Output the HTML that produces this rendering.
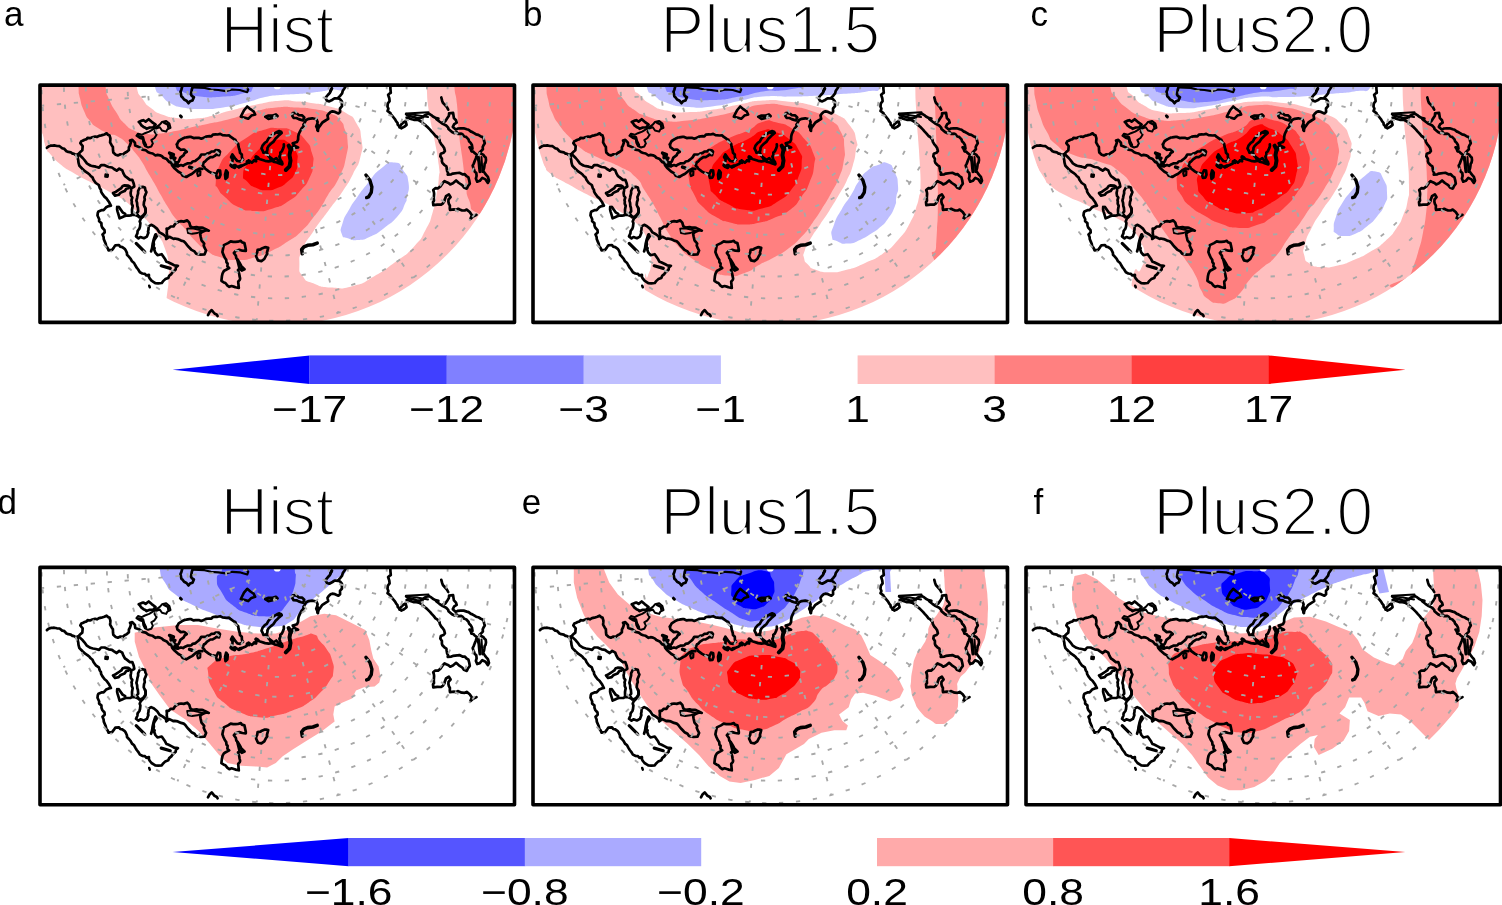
<!DOCTYPE html>
<html lang="en"><head><meta charset="utf-8"><title>Figure</title>
<style>
html,body{margin:0;padding:0;background:#fff}
svg{display:block}
text{font-family:"Liberation Sans",sans-serif;fill:#000}
.ttl{font-size:66px;text-anchor:middle;stroke:#fff;stroke-width:2.3px}
.lab{font-size:35px}
.cb{font-size:37.6px;text-anchor:middle}
.fr{fill:none;stroke:#000;stroke-width:3.6;stroke-linejoin:round}
.grid{fill:none;stroke:#a8a8a8;stroke-width:1.85;stroke-dasharray:4.3 12.7}
.coast{fill:none;stroke:#000;stroke-width:2.7;stroke-linejoin:round;stroke-linecap:round}
</style></head><body>
<svg width="1502" height="905" viewBox="0 0 1502 905">
<rect width="1502" height="905" fill="#fff"/>
<defs>
<clipPath id="cr"><rect x="0" y="0" width="474.5" height="237.3"/></clipPath>
<clipPath id="cc"><circle cx="237.25" cy="0" r="240.0"/></clipPath>
<g id="grid" class="grid"><circle cx="237.25" cy="0" r="235.7"/><circle cx="237.25" cy="0" r="213.3"/><circle cx="237.25" cy="0" r="191.5"/><circle cx="237.25" cy="0" r="170.4"/><circle cx="237.25" cy="0" r="149.7"/><circle cx="237.25" cy="0" r="129.4"/><circle cx="237.25" cy="0" r="109.5"/><circle cx="237.25" cy="0" r="90.0"/><circle cx="237.25" cy="0" r="70.6"/><circle cx="237.25" cy="0" r="51.5"/><circle cx="237.25" cy="0" r="32.5"/><path d="M207.4 2.6 L2.1 20.6"/><path d="M210.1 12.7 L23.4 99.7"/><path d="M216.0 21.2 L70.4 166.9"/><path d="M224.6 27.2 L137.5 213.9"/><path d="M234.6 29.9 L216.7 235.1"/><path d="M245.0 29.0 L298.3 228.0"/><path d="M254.5 24.6 L372.6 193.3"/><path d="M261.8 17.2 L430.6 135.4"/><path d="M266.2 7.8 L465.2 61.1"/></g>
<g id="coast" class="coast"><path d="M6.9 62.7 L8.5 61.4 L10.9 60.5 L12.9 60.5 L14.2 60.3 L16.9 60.9 L19.6 61.1 L22.2 63.2 L23.9 63.4 L26.5 66.1 L28.3 66.8 L30.8 67.2 L32.5 68.5 L33.6 68.5 L35.9 69.9 L38.9 68.6"/><path d="M38.9 68.6 L40.0 67.1 L42.3 65.2 L42.7 61.0 L40.3 58.1 L41.3 56.2 L42.6 55.7 L44.6 54.6 L46.7 54.0 L47.5 52.7 L50.0 53.1 L52.3 52.2 L55.2 51.4 L56.9 51.9 L59.0 50.7 L61.3 50.3 L64.4 49.4 L66.6 48.2 L68.0 49.6 L69.6 50.4 L70.4 53.3 L70.3 55.0 L70.1 57.2 L71.8 60.3 L72.9 61.9 L73.0 65.1 L73.3 67.4 L75.7 69.6 L77.9 70.3 L80.4 69.2 L82.9 69.4 L84.6 67.9 L86.9 66.7 L88.9 64.8 L88.9 62.1 L89.8 60.7 L90.9 57.4 L90.0 55.4 L92.3 54.7 L94.9 57.5 L95.2 60.5 L98.9 61.8 L101.4 63.3 L102.3 64.5 L105.8 65.2 L108.2 67.1 L110.3 67.9 L112.7 68.4 L115.5 70.4 L117.6 69.8 L120.0 70.2 L122.0 71.2 L123.4 72.6 L126.7 74.0 L129.2 76.9 L131.4 77.9 L132.2 80.4 L134.5 83.2 L138.4 86.6 L141.0 88.0 L142.7 90.6 L146.3 91.9 L150.2 89.6 L152.1 88.7 L156.0 85.4 L159.3 83.6 L162.4 83.8"/><path d="M37.8 70.2 L37.8 73.3 L38.3 75.3 L38.5 77.5 L39.4 80.7 L41.3 82.6 L42.3 83.6 L45.2 86.3 L47.4 87.7 L49.5 89.4 L50.7 90.9 L52.5 92.3 L53.6 94.9 L55.8 97.9 L58.8 99.9 L59.8 103.1 L60.9 104.6 L61.1 106.5 L62.3 108.7 L64.6 111.8 L66.5 113.3 L68.1 115.6 L69.2 117.2 L70.9 120.6 L68.8 121.0 L66.1 122.2 L63.6 125.0 L62.0 124.9 L58.5 126.3 L57.8 127.7 L57.5 130.4 L59.2 134.1 L59.1 136.2 L61.4 138.0 L61.5 140.5 L62.2 142.4 L64.5 145.1 L64.7 147.3 L62.5 149.3 L63.6 152.0 L63.8 154.2 L64.9 156.8 L65.7 158.7 L66.3 161.5 L67.5 162.7 L68.6 165.3 L72.1 164.7 L73.8 162.5 L75.4 160.2 L79.0 159.9 L80.2 161.6 L82.3 162.0 L84.7 163.7 L85.7 165.2 L86.9 167.8 L87.0 169.6 L88.6 171.3 L90.7 173.7 L92.0 176.2 L94.1 177.9 L95.3 180.2 L96.7 182.6 L98.2 184.4 L99.9 187.2 L102.3 188.4 L104.9 188.8 L106.4 190.4 L108.9 189.7 L108.9 192.0 L109.9 193.6 L111.5 195.6 L114.1 197.2 L115.3 198.0 L118.2 198.3 L121.8 197.9 L122.9 196.3 L125.3 194.0 L128.3 192.9 L129.2 190.7 L131.3 189.0 L132.4 187.3 L134.6 185.3 L135.7 184.3 L135.9 182.3 L137.9 180.7 L134.3 180.3 L132.3 179.2 L128.1 177.1 L126.4 176.6 L125.2 174.2 L123.8 172.2 L121.7 169.1 L117.5 170.1 L115.4 167.6 L114.2 164.5 L114.6 163.0 L113.4 161.6 L113.9 159.3 L113.6 157.2 L114.1 155.1 L116.8 151.2 L115.9 149.2"/><path d="M39.9 70.2 L42.7 72.9 L44.4 74.9 L46.9 78.3 L48.4 79.2 L50.4 80.4 L53.0 81.1 L55.8 81.6 L59.1 82.5 L61.1 80.1 L64.6 80.1 L67.4 81.4 L68.7 81.9 L72.0 82.4 L74.0 83.9 L76.7 85.6 L79.2 83.5 L82.3 85.3 L83.4 88.3 L85.0 91.1 L86.4 92.0 L87.7 93.0 L89.9 94.8 L92.3 94.7 L93.7 98.4 L94.3 101.4 L91.3 103.3 L91.0 105.8 L90.6 107.9 L91.0 110.8 L92.3 112.4 L91.5 115.1 L91.8 116.3 L91.7 118.5 L92.7 120.8 L92.3 122.9 L92.0 124.6 L92.1 128.2"/><path d="M77.2 121.8 L77.1 124.3 L77.6 126.5 L78.6 129.8 L79.6 133.2 L82.1 132.1 L84.2 131.2 L85.9 130.6 L88.9 130.6 L90.6 130.4 L91.7 129.7 L95.1 129.8 L97.1 130.6 L99.4 131.7"/><path d="M78.8 121.8 L82.6 127.2 L85.2 128.8"/><path d="M73.0 108.0 L75.1 107.2 L77.2 105.8 L79.0 104.6 L81.3 103.0 L82.7 100.9 L84.6 100.3 L88.3 100.5 L90.1 101.8 L88.3 103.2 L86.3 103.6 L84.6 106.0 L82.0 107.0 L80.4 107.8 L78.7 109.7 L75.0 110.6Z"/><path d="M65.6 89.4 L67.8 89.6 L67.6 91.6 L65.4 91.4Z" stroke-width="2.5" fill="#000"/><path d="M99.9 102.3 L102.7 101.8 L104.9 102.5 L105.4 105.1 L106.4 107.1 L105.7 109.0 L104.4 111.9 L104.8 114.7 L104.0 116.9 L103.7 119.9 L105.2 123.2 L105.5 124.7 L105.5 127.1 L103.8 129.8 L101.8 131.5 L99.2 132.1 L96.8 128.1 L98.2 126.3 L97.9 122.6 L97.3 120.9 L97.1 117.7 L96.4 115.5 L97.1 112.7 L97.4 110.7 L98.1 108.3 L98.1 105.9Z"/><path d="M105.2 122.6 L105.7 124.0 L105.6 126.9 L105.2 128.7 L103.7 130.9 L100.7 133.8 L99.7 136.3 L100.4 138.0 L100.0 141.6 L99.4 143.6 L97.6 145.9 L97.4 148.3 L96.0 151.3 L98.5 153.3 L100.4 151.9 L103.9 153.1 L106.9 151.5 L108.4 147.7 L108.0 146.7 L108.5 144.4 L108.6 141.3 L111.2 139.7 L114.0 141.1 L117.2 143.8 L119.5 147.3 L120.4 147.8 L122.9 149.2 L125.5 151.2 L126.5 153.5"/><path d="M126.2 153.9 L127.2 150.5 L126.7 147.9 L126.9 145.9 L126.6 143.4 L128.5 143.5 L130.8 141.4 L133.5 141.4 L134.9 139.1 L136.7 137.7 L139.1 136.4 L141.1 136.1 L143.7 136.5 L147.2 135.3 L149.3 137.5 L150.3 141.0 L152.5 142.5 L156.6 142.0 L158.5 142.5 L161.7 142.4 L163.5 143.0 L165.8 144.1 L168.8 145.5 L166.0 145.1 L162.0 146.9 L160.1 148.7 L160.7 151.7 L161.5 155.2 L163.2 157.2 L164.2 158.4 L163.7 160.4 L164.9 163.3 L166.1 165.5 L164.5 169.3 L160.5 169.6 L157.8 169.1 L156.0 168.5 L154.5 166.3 L151.5 164.8 L150.7 163.9 L148.3 161.4 L147.3 160.3 L145.5 157.9 L143.7 156.2 L141.1 155.5 L140.0 155.0 L137.8 154.0 L134.7 153.4 L133.6 153.8 L129.4 151.7Z"/><path d="M147.2 143.6 L152.1 143.2 L162.7 145.5 L157.4 147.9 L152.1 148.6 L148.0 148.0Z" stroke-width="1.9"/><path d="M96.2 158.3 L104.7 166.8" stroke-width="3.2"/><path d="M121.2 180.7 L130.3 183.3" stroke-width="3.2"/><path d="M115.3 149.8 L113.7 154.6 L112.7 158.8 L112.1 163.1 L111.1 166.3" stroke-width="2.8"/><path d="M109.2 200.6 L109.8 202.2" stroke-width="2.5"/><path d="M142.2 1.5 L141.4 4.6 L140.5 6.7 L141.4 11.4 L142.3 12.0 L144.1 14.4 L146.5 15.6 L148.5 18.1 L150.0 16.2 L152.5 15.3 L153.9 12.0 L151.9 10.9 L151.0 9.4 L151.8 4.4 L152.8 1.5"/><path d="M152.8 2.3 L164.6 2.8 L171.0 4.4 L178.4 4.9 L185.9 6.0 L192.3 4.4 L199.7 4.9 L207.2 7.1 L208.2 4.4 L206.1 2.0" stroke-width="2.2"/><path d="M140.4 30.8 L141.4 31.8" stroke-width="3.0"/><path d="M98.7 36.8 L101.9 35.5 L103.3 35.1 L105.6 36.5 L108.7 34.1 L111.7 36.7 L115.6 39.6 L113.2 42.4 L109.8 42.4 L106.6 43.7 L105.3 42.6 L103.5 41.8 L101.5 40.3 L99.9 38.0Z"/><path d="M122.0 36.9 L126.2 35.8 L129.4 38.5 L130.5 42.7 L127.3 44.3 L126.2 46.5 L122.0 45.4 L119.8 42.2 L116.6 43.3 L114.5 46.5 L116.6 49.7 L114.5 52.9 L111.3 55.0 L112.9 58.2 L111.3 61.4 L108.1 62.4 L104.9 60.9 L103.3 57.7 L102.8 53.9 L99.6 52.9 L96.4 50.7 L98.0 48.6 L101.7 49.7 L104.9 48.1 L109.2 46.5 L112.9 44.3 L116.6 41.7 L119.8 39.5Z" stroke-width="2.0"/><path d="M124.0 37.5 L128.0 39.5 L128.5 42.5" stroke-width="2.6"/><path d="M98.5 51.0 L103.0 52.0 L104.0 56.0 L106.0 60.0" stroke-width="2.4"/><path d="M129.5 68.0 L133.5 69.5 L131.0 72.5 L135.0 73.0 L132.0 76.0 L136.0 77.5 L134.0 80.5 L137.8 81.0" stroke-width="3.4"/><path d="M131.5 70.0 L133.5 75.0" stroke-width="4.5"/><path d="M136.9 59.3 L138.7 55.9 L142.9 53.3 L145.0 52.4 L146.3 52.3 L149.6 51.7 L151.1 51.8 L153.7 53.0 L155.6 52.7 L158.8 52.7 L161.3 53.6 L165.0 52.2 L166.0 51.5 L169.5 51.1 L171.4 51.3 L172.9 49.6 L175.9 49.3 L177.5 49.4 L180.2 48.8 L182.5 50.0 L186.5 50.4 L189.2 50.3 L190.8 51.8 L194.0 54.1 L195.3 54.6 L196.4 57.1 L198.2 58.8 L198.6 61.8 L199.2 63.9 L199.7 65.4 L200.0 67.6 L201.8 69.3 L201.9 72.4 L203.0 74.5 L200.1 76.4 L197.3 75.9 L195.5 73.8 L192.4 69.3 L191.1 72.0 L192.6 74.1 L192.4 76.2 L191.7 78.3 L190.6 80.3 L192.0 81.5 L195.1 79.9 L196.6 81.2 L198.7 82.0 L199.8 81.0 L201.5 80.8 L205.8 79.0 L206.9 78.2 L208.5 75.2 L211.8 77.6 L214.8 75.0 L215.5 74.7 L217.4 73.4 L218.1 73.4 L220.1 74.1 L225.1 75.7 L228.7 76.3 L232.3 75.5 L233.3 75.1 L236.3 73.1 L238.5 75.8 L239.8 76.8 L242.1 78.4"/><path d="M136.9 59.3 L137.4 62.0 L140.7 64.7 L143.5 64.4 L144.7 64.8 L146.8 66.7 L144.6 68.1 L143.7 70.0 L140.4 72.5 L138.8 76.4 L137.1 77.8 L138.5 80.9 L141.0 80.0 L143.0 80.7 L145.1 79.3 L147.3 78.3 L151.2 78.1 L152.6 76.4 L155.3 75.9 L155.9 75.3 L158.1 73.6 L159.7 72.1 L161.3 69.4 L162.8 69.4 L165.8 69.4 L167.1 68.5 L169.7 67.8 L171.5 66.4 L174.2 66.2 L175.7 65.1 L178.9 65.3 L180.0 66.6 L179.1 70.1 L176.3 69.5 L174.8 70.8 L172.7 72.0 L170.4 72.1 L167.1 74.3 L165.0 76.6 L164.0 76.9 L162.6 80.4 L164.3 82.0 L165.0 83.4 L169.1 86.5 L171.3 87.6 L175.2 88.5"/><path d="M178.0 85.3 L180.1 85.6 L180.5 89.6 L179.4 92.5 L176.9 92.7 L176.1 89.7Z"/><path d="M186.2 85.5 L187.6 87.5 L187.2 92.0 L185.6 93.5 L185.2 89.5Z" stroke-width="3.0"/><path d="M149.6 82.0 L152.0 82.8" stroke-width="3.6"/><path d="M158.2 85.4 L160.4 86.2 L160.2 90.0 L158.0 91.0 L157.2 88.0Z" stroke-width="2.2"/><path d="M192.5 81.0 L194.5 82.0" stroke-width="4.0"/><path d="M216.3 72.0 L217.6 72.8" stroke-width="4.0"/><path d="M199.0 82.0 L201.0 81.0" stroke-width="3.4"/><path d="M207.0 76.5 L209.0 77.5" stroke-width="3.0"/><path d="M214.0 75.5 L216.0 76.0" stroke-width="3.0"/><path d="M221.5 63.4 L222.5 60.5 L224.8 57.8 L226.8 56.5 L228.4 53.5 L230.6 51.2 L232.2 50.1 L234.3 48.5 L237.0 46.9 L239.3 45.9 L241.7 47.9 L239.1 50.0 L237.0 52.1 L235.6 53.4 L233.3 56.8 L230.9 58.7 L228.5 61.0 L227.4 63.1 L227.5 64.0 L226.8 67.3 L223.5 67.6 L222.5 65.1Z"/><path d="M238.0 47.5 L241.0 47.0" stroke-width="3.2"/><path d="M226.4 66.7 L228.5 71.0 L232.7 74.2"/><path d="M243.8 59.3 L243.9 61.1 L243.3 63.0 L241.8 66.3 L240.3 67.4 L240.4 69.6 L239.4 71.5 L240.4 74.8 L242.0 76.9 L242.3 79.4 L240.1 78.7 L238.7 78.2 L237.0 77.4 L234.4 76.9 L231.6 75.4 L230.0 73.1"/><path d="M248.6 60.6 L250.5 64.4 L249.5 70.0 L250.5 75.6 L249.5 81.2 L245.8 84.9" stroke-width="4.0"/><path d="M200.8 31.6 L204.0 25.2 L207.2 21.4 L210.4 24.1 L213.6 26.2 L215.2 29.4 L211.4 30.5 L208.2 33.7 L205.0 32.6Z" stroke-width="2.6"/><path d="M225.3 31.6 L228.5 33.7 L233.8 32.6 L237.5 31.0 L235.9 29.4 L232.7 30.5 L228.5 30.5Z" stroke-width="2.8"/><path d="M305.6 1.5 L304.2 3.6 L302.8 5.6 L302.1 8.3 L300.1 10.7 L298.1 12.9 L300.2 14.3 L301.9 16.2 L301.9 19.5 L302.0 21.1 L300.0 23.4 L300.1 26.8 L298.4 28.3 L295.0 26.8 L292.3 26.3 L290.9 26.6 L288.7 28.7 L287.5 30.3 L288.2 33.8 L285.5 35.4 L282.4 37.4 L279.6 41.3 L278.9 41.9 L277.9 44.5 L278.0 45.8 L277.0 42.9 L276.2 41.3 L277.2 38.8 L277.6 36.8 L276.5 34.1 L272.2 33.2 L268.7 33.7 L266.1 34.9 L264.5 37.8 L263.4 39.6 L263.7 40.9 L261.5 43.5 L259.8 46.7 L258.7 49.2 L258.2 51.5 L258.1 54.5 L257.0 56.9 L252.7 58.2 L254.9 60.8 L258.1 62.3 L254.1 62.9 L252.5 61.7 L251.3 65.6"/><path d="M277.8 40.0 L277.6 45.0" stroke-width="3.0"/><path d="M291.8 3.3 L290.5 5.6 L290.0 7.6 L287.8 9.9 L285.5 12.8 L286.9 15.6 L289.3 16.3 L292.5 14.6 L294.5 13.3 L295.7 13.3 L298.2 13.4"/><path d="M291.8 3.5 L290.5 6.0" stroke-width="3.0"/><path d="M252.8 28.0 L254.9 27.8 L257.2 28.6 L258.9 30.1 L262.2 30.3 L264.3 32.3 L263.0 35.3 L261.2 34.8 L258.7 34.0 L256.5 32.9 L253.6 32.8 L252.3 30.6Z"/><path d="M350.4 1.5 L350.4 3.6 L350.8 7.7 L349.9 8.2 L348.1 9.6 L349.3 13.2 L349.6 16.0 L347.8 18.4 L347.5 21.4 L348.4 23.6 L347.5 25.8 L350.4 28.0 L350.8 29.0 L352.4 30.9 L355.1 34.2 L356.2 36.3 L357.5 37.7 L357.7 39.5 L359.8 41.8 L361.3 43.2 L364.1 41.8 L366.6 39.8 L365.6 36.1 L363.3 37.4 L361.0 39.7 L359.4 42.2"/><path d="M388.5 27.2 L366.0 28.3 L377.0 30.2 L388.0 32.0" stroke-width="2.0"/><path d="M366.6 32.6 L368.6 33.0 L371.9 34.1 L373.9 34.7 L376.3 34.7 L378.8 35.2 L381.5 36.7 L383.0 38.1 L386.2 40.8 L387.2 41.7 L390.0 44.5 L391.7 46.5 L393.8 48.8 L395.5 50.9 L397.2 51.9 L399.4 54.5 L399.9 56.8 L401.2 59.1 L403.1 61.3 L404.1 62.8 L404.9 66.0 L403.4 67.7 L400.8 68.7 L400.3 71.1 L401.9 73.6 L401.9 76.3 L402.4 77.8 L404.4 79.9 L406.4 81.3 L406.6 83.0 L407.1 85.9 L408.1 87.9 L407.7 89.5 L411.3 89.2 L412.9 88.5 L417.3 87.9 L419.4 87.7 L422.9 89.3 L424.7 89.1 L426.4 90.9 L428.4 92.3 L429.3 95.6 L429.8 98.6 L427.9 101.1 L426.9 103.4 L426.3 103.5 L424.0 102.4 L422.2 100.1 L418.9 97.9 L416.1 95.4 L412.9 98.1 L410.2 99.3 L408.5 97.9 L406.2 96.9 L404.5 96.0 L403.0 97.6 L400.4 101.3 L398.1 103.2 L395.3 103.1 L393.2 104.9 L393.9 107.0 L394.1 108.8 L393.9 111.2 L393.8 113.1 L394.0 115.6 L393.0 117.0 L393.3 120.0 L397.3 119.5 L401.1 119.6 L403.0 118.2 L404.5 115.9 L404.6 114.9 L406.0 111.1 L408.9 109.3 L410.6 112.1 L408.5 114.4 L408.4 116.7 L408.9 118.7 L409.9 120.6 L409.8 123.2 L410.0 124.7 L414.0 124.2 L415.7 124.8 L418.2 123.7 L420.2 124.7 L422.0 125.3 L424.7 125.4 L426.7 124.5 L429.7 126.9 L431.9 130.2 L430.3 133.9 L433.1 131.4 L436.5 129.7"/><path d="M366.1 29.0 L368.5 30.7 L372.5 31.7 L374.6 32.1 L376.9 33.2 L379.8 33.2 L382.6 32.4 L384.2 30.6 L386.4 29.4 L389.0 28.7 L391.3 30.0 L392.9 31.4 L395.3 32.7 L398.4 33.5 L396.2 33.8 L399.4 36.4 L402.7 38.7 L406.2 40.4 L408.2 42.5 L408.5 43.8 L412.0 46.9 L414.1 48.0 L416.9 47.1 L418.1 48.8 L421.2 48.5 L422.5 49.2 L424.3 51.4 L426.1 51.8 L428.5 54.3 L429.0 56.1 L430.7 57.8 L431.9 59.9 L432.5 63.5 L429.5 62.2 L430.8 64.2 L431.5 66.3 L433.3 66.6 L434.4 67.8 L436.9 69.7 L435.9 73.1 L434.8 75.7 L433.8 78.4 L432.7 80.6 L433.2 82.3 L434.2 84.8 L434.6 86.3 L436.3 87.9 L436.6 90.9 L435.9 93.5 L437.2 96.6 L439.8 95.7 L442.3 92.8 L445.5 94.3 L447.9 97.8 L449.0 95.5 L447.9 91.8 L446.8 90.6 L445.1 88.5 L443.2 85.5 L444.1 82.9 L444.4 81.0 L444.7 78.6 L445.5 77.5 L446.0 75.1 L445.7 72.3 L444.3 71.1 L443.5 69.8 L439.4 67.6 L442.9 64.2 L442.7 61.9 L443.7 59.8 L444.8 58.1 L444.1 55.9 L443.7 53.8 L442.5 52.0 L440.4 51.1 L438.3 49.8 L436.1 49.3 L434.1 48.0 L431.6 46.6 L430.9 46.5 L428.6 44.7 L426.8 44.2 L423.7 43.2 L420.7 43.2 L418.0 43.4 L415.8 44.5 L412.8 41.8 L414.2 39.0 L416.7 37.5 L416.0 35.2 L413.9 33.0 L413.6 31.2 L413.1 27.8 L409.1 28.3 L408.9 30.6 L407.7 32.5 L405.3 36.1 L402.8 37.4"/><path d="M401.3 12.4 L402.2 15.8 L403.0 17.8 L403.8 18.6 L406.9 22.1 L408.2 24.6"/><path d="M438.0 71.5 L439.1 76.8 L439.6 82.2 L440.1 86.4" stroke-width="3.4"/><path d="M441.5 72.0 L442.0 80.0 L442.5 87.0" stroke-width="2.0"/><path d="M325.9 89.9 L329.9 95.2 L331.9 101.8 L331.3 107.2 L328.6 111.8 L326.6 112.5" stroke-width="3.4"/><path d="M183.3 162.3 L183.8 160.0 L188.0 158.0 L190.7 156.3 L193.2 156.7 L195.6 156.8 L197.9 156.6 L200.8 155.7 L201.9 157.2 L204.4 158.0 L205.0 160.5 L205.8 164.4 L205.8 165.9 L202.4 165.6 L199.3 164.7 L195.7 165.9 L193.9 167.8 L195.9 170.7 L196.3 173.1 L198.0 175.0 L199.5 177.5 L201.4 181.1 L204.5 184.1 L201.8 185.4 L200.1 183.6 L198.0 184.9 L199.3 189.0 L199.5 190.8 L200.1 193.3 L199.9 194.5 L198.2 196.5 L198.5 199.7 L198.8 202.9 L195.5 202.2 L194.6 201.8 L191.6 200.9 L189.3 201.7 L187.5 200.5 L185.4 197.9 L183.8 197.3 L181.4 195.7 L181.9 191.2 L182.6 188.2 L183.9 185.9 L185.2 185.1 L189.2 183.0 L187.4 181.4 L187.6 178.4 L186.5 177.3 L186.2 174.6 L184.8 172.6 L183.5 169.8 L182.4 166.9Z"/><path d="M197.3 174.6 L199.4 183.1"/><path d="M216.3 169.3 L217.2 167.4 L217.6 164.8 L220.7 164.3 L221.2 163.6 L224.3 162.3 L226.1 162.1 L228.2 162.7 L226.9 167.8 L227.3 168.9 L226.1 170.4 L224.3 173.9 L221.4 176.0 L218.0 175.3 L216.1 171.2Z"/><path d="M262.3 168.7 L261.7 164.4 L263.9 161.8 L267.6 160.2 L272.9 159.6 L277.2 158.0" stroke-width="3.6"/><path d="M168.0 230.0 L169.7 226.8 L171.7 225.0 L174.5 228.4 L176.9 229.6 L177.6 231.0"/></g>
</defs>
<text class="ttl" transform="translate(277.2 52.7) scale(1 1.03)">Hist</text>
<text class="lab" x="4.0" y="25.5">a</text>
<text class="ttl" transform="translate(770.2 52.7) scale(1 1.03)">Plus1.5</text>
<text class="lab" x="523.0" y="25.5">b</text>
<text class="ttl" transform="translate(1263.2 52.7) scale(1 1.03)">Plus2.0</text>
<text class="lab" x="1030.5" y="25.5">c</text>
<text class="ttl" transform="translate(277.2 535.0) scale(1 1.03)">Hist</text>
<text class="lab" x="-2.5" y="513.5">d</text>
<text class="ttl" transform="translate(770.2 535.0) scale(1 1.03)">Plus1.5</text>
<text class="lab" x="521.8" y="513.5">e</text>
<text class="ttl" transform="translate(1263.2 535.0) scale(1 1.03)">Plus2.0</text>
<text class="lab" x="1033.5" y="513.5">f</text>
<g transform="translate(40.0 85.1)">
<g clip-path="url(#cr)">
<g clip-path="url(#cc)">
<path d="M-20.0 -25.1 L500.0 -25.1 L500.0 254.9 L-20.0 254.9Z" fill="#ffbfbf"/>
</g>
<g>
<path d="M-20.0 34.9 C-14.0 -35.8 -10.7 33.6 -2.0 42.9 C6.7 52.2 1.9 54.2 6.0 62.9 C10.1 71.6 5.6 63.7 10.4 69.1 C15.2 74.5 12.6 72.8 20.3 79.1 C28.0 85.4 24.4 82.4 33.6 87.9 C42.8 93.4 38.7 90.9 47.9 95.7 C57.1 100.5 52.7 97.9 61.2 102.3 C69.7 106.7 65.6 104.5 73.3 108.9 C81.0 113.3 77.8 110.7 84.4 115.5 C91.0 120.3 87.3 118.1 93.2 123.3 C99.1 128.5 96.4 125.8 102.0 131.0 C107.6 136.2 104.7 132.7 110.0 138.9 C115.3 145.1 113.0 141.5 118.0 149.7 C123.0 157.9 121.5 153.8 125.0 163.6 C128.5 173.4 127.3 169.3 128.5 179.1 C129.7 188.9 129.1 181.9 128.5 192.9 C127.9 203.9 129.5 191.3 126.7 212.0 C123.9 232.7 168.9 240.6 120.0 254.9 C71.1 269.2 26.7 328.2 -20.0 254.9 C-66.7 181.6 -26.0 105.6 -20.0 34.9Z" fill="#ffffff"/>
<path d="M96.7 -15.1 C0.0 -9.4 94.6 -7.9 96.7 1.9 C98.8 11.7 98.2 7.4 103.0 14.4 C107.8 21.4 104.4 17.8 111.0 22.9 C117.6 28.0 113.7 26.3 122.8 29.7 C131.9 33.1 127.2 31.8 138.3 33.1 C149.4 34.4 144.4 34.4 156.0 33.5 C167.6 32.6 161.9 33.1 173.2 30.5 C184.5 27.9 176.0 29.2 189.9 25.7 C203.8 22.2 198.2 23.2 214.8 19.9 C231.4 16.6 225.9 16.8 239.8 15.7 C253.7 14.6 245.3 15.7 256.4 16.5 C267.5 17.3 262.0 16.5 273.1 18.2 C284.2 19.9 278.6 18.2 289.7 21.5 C300.8 24.8 297.5 22.6 306.4 28.2 C315.3 33.8 311.4 29.6 316.4 38.2 C321.4 46.8 320.0 42.8 321.4 53.9 C322.8 65.0 323.3 59.9 320.5 71.5 C317.7 83.1 318.9 77.3 313.0 88.8 C307.1 100.3 310.7 94.1 302.7 106.1 C294.7 118.1 298.7 111.5 288.9 124.9 C279.1 138.3 282.0 133.4 273.3 146.3 C264.6 159.2 267.5 152.7 262.9 163.6 C258.3 174.5 259.4 169.9 259.4 179.1 C259.4 188.3 258.3 184.9 262.9 191.3 C267.5 197.7 264.1 194.5 273.3 198.2 C282.5 201.9 277.4 201.6 290.6 202.5 C303.8 203.4 298.6 204.5 313.0 200.8 C327.4 197.1 320.0 199.1 333.9 191.3 C347.8 183.5 341.3 187.2 354.6 177.4 C367.9 167.6 363.3 172.8 373.7 161.8 C384.1 150.8 379.5 156.0 385.8 144.5 C392.1 133.0 389.1 138.7 392.7 127.2 C396.3 115.7 394.5 121.3 396.5 109.9 C398.5 98.5 398.0 102.8 398.8 92.9 C399.6 83.0 400.3 93.0 398.8 80.1 C397.3 67.2 397.6 71.4 394.4 54.1 C391.2 36.8 391.9 45.6 389.3 28.2 C386.7 10.8 387.6 16.3 386.7 1.9 C385.8 -12.5 483.4 -9.4 386.7 -15.1 C290.0 -20.8 193.4 -20.8 96.7 -15.1Z" fill="#ffffff"/>
</g>
<g clip-path="url(#cc)">
<path d="M115.0 -15.1 C51.7 -9.4 112.7 -6.8 115.0 1.9 C117.3 10.6 116.7 5.4 122.0 10.9 C127.3 16.4 123.7 14.5 131.0 18.4 C138.3 22.3 134.0 20.9 144.0 22.7 C154.0 24.5 147.9 24.0 161.0 23.9 C174.1 23.8 168.0 24.6 183.2 22.4 C198.4 20.2 193.2 20.7 206.5 17.4 C219.8 14.1 212.1 14.9 223.2 12.4 C234.3 9.9 228.7 11.0 239.8 9.9 C250.9 8.8 245.3 9.8 256.4 9.0 C267.5 8.2 262.0 8.8 273.1 7.4 C284.2 6.0 279.2 6.7 289.7 4.9 C300.2 3.1 299.6 8.6 304.7 1.9 C309.8 -4.8 368.2 -9.4 305.0 -15.1 C241.8 -20.8 178.3 -20.8 115.0 -15.1Z" fill="#bfbfff"/>
<path d="M135.5 -15.1 C109.3 -9.4 132.7 -5.6 135.5 1.9 C138.3 9.4 135.8 4.3 144.0 7.4 C152.2 10.5 147.7 9.9 160.0 11.3 C172.3 12.7 166.6 12.7 181.0 11.7 C195.4 10.7 192.5 11.5 203.2 8.2 C213.9 4.9 209.6 9.7 213.2 1.9 C216.8 -5.9 239.9 -9.4 214.0 -15.1 C188.1 -20.8 161.7 -20.8 135.5 -15.1Z" fill="#8080ff"/>
<path d="M354.6 77.5 C362.1 78.1 358.7 78.7 363.3 85.3 C367.9 91.9 367.3 88.5 368.5 97.4 C369.7 106.3 368.2 104.8 367.0 111.9 C365.8 119.0 368.0 112.3 365.0 118.6 C362.0 124.9 364.9 122.6 358.0 130.7 C351.1 138.8 353.4 135.9 344.2 142.8 C335.0 149.7 339.0 147.4 330.4 151.4 C321.8 155.4 325.8 154.3 318.3 154.9 C310.8 155.5 313.4 155.2 307.9 153.2 C302.4 151.2 303.5 154.1 301.8 148.9 C300.1 143.7 300.1 146.0 302.7 137.6 C305.3 129.2 305.0 131.9 309.6 123.7 C314.2 115.5 310.8 121.1 316.6 112.9 C322.4 104.7 318.9 108.9 327.0 99.1 C335.1 89.3 331.6 90.8 340.8 83.6 C350.0 76.4 347.1 76.9 354.6 77.5Z" fill="#bfbfff"/>
<path d="M38.5 -15.1 C29.5 -9.4 38.0 -7.6 38.5 1.9 C39.0 11.4 38.3 5.5 40.1 13.5 C41.9 21.5 40.7 18.3 44.0 25.8 C47.3 33.3 45.5 30.2 50.1 35.9 C54.7 41.6 51.7 38.8 57.9 42.9 C64.1 47.0 62.1 45.4 68.7 48.3 C75.3 51.2 71.4 47.9 77.7 51.5 C84.0 55.1 81.8 53.7 87.7 59.2 C93.6 64.7 90.6 62.1 95.4 68.0 C100.2 73.9 97.9 70.6 102.0 76.9 C106.1 83.2 103.5 79.8 107.6 86.8 C111.7 93.8 109.8 90.2 114.2 97.9 C118.6 105.6 116.4 102.3 120.8 110.0 C125.2 117.7 122.3 113.1 127.4 121.1 C132.5 129.1 129.9 126.1 136.0 133.9 C142.1 141.7 139.7 137.5 145.8 144.5 C151.9 151.5 147.5 148.0 154.4 154.9 C161.3 161.8 157.9 159.5 166.6 165.3 C175.3 171.1 170.0 169.0 180.4 172.2 C190.8 175.4 186.2 174.8 197.7 174.8 C209.2 174.8 203.5 175.4 215.0 172.2 C226.5 169.0 221.5 170.5 232.3 165.3 C243.1 160.1 237.7 162.9 247.3 156.6 C256.9 150.3 252.5 154.4 261.2 146.3 C269.9 138.2 266.4 141.1 273.3 132.4 C280.2 123.7 277.1 127.8 282.0 120.3 C286.9 112.8 282.3 119.3 288.0 109.9 C293.7 100.5 293.1 105.0 299.2 92.2 C305.3 79.4 303.4 83.9 306.2 71.5 C309.0 59.1 307.9 63.8 307.5 54.9 C307.1 46.0 307.5 51.6 305.0 44.9 C302.5 38.2 305.1 40.5 300.0 34.9 C294.9 29.3 298.7 31.8 289.7 28.2 C280.7 24.6 284.2 25.9 273.1 24.0 C262.0 22.1 268.6 22.9 256.4 22.4 C244.2 21.9 250.4 21.0 236.5 22.4 C222.6 23.8 230.3 22.6 214.8 26.5 C199.3 30.4 206.1 29.8 189.9 34.0 C173.7 38.2 179.2 36.4 166.1 39.2 C153.0 42.0 161.0 40.1 150.7 42.3 C140.4 44.5 145.5 43.8 135.2 45.9 C124.9 48.0 129.0 47.5 119.7 48.5 C110.4 49.5 115.6 49.9 107.4 49.0 C99.2 48.1 102.7 49.5 95.0 45.9 C87.3 42.3 90.4 44.4 84.2 38.2 C78.0 32.0 81.3 35.1 76.4 27.4 C71.5 19.7 73.1 23.5 69.5 15.0 C65.9 6.5 66.9 11.9 65.6 1.9 C64.3 -8.1 74.6 -9.4 65.6 -15.1 C56.6 -20.8 47.5 -20.8 38.5 -15.1Z" fill="#ff8080"/>
<path d="M175.8 96.6 C176.2 88.9 174.5 90.9 179.4 80.8 C184.3 70.7 181.5 75.5 190.4 66.2 C199.3 56.9 195.3 60.0 206.2 52.9 C217.1 45.8 212.3 48.2 223.2 44.9 C234.1 41.6 228.9 42.7 239.0 43.1 C249.1 43.5 244.7 42.1 253.6 46.2 C262.5 50.3 259.6 48.2 265.7 55.3 C271.8 62.4 269.4 59.3 271.8 67.4 C274.2 75.5 273.8 71.1 273.0 79.6 C272.2 88.1 273.4 84.4 269.4 92.9 C265.4 101.4 267.8 97.4 260.9 105.1 C254.0 112.8 258.0 109.9 248.7 116.0 C239.4 122.1 244.2 120.0 232.9 123.3 C221.6 126.6 226.0 126.2 214.7 125.8 C203.4 125.4 208.6 126.6 198.9 122.1 C189.2 117.6 192.4 118.5 185.5 112.4 C178.6 106.3 181.4 109.2 178.2 103.9 C175.0 98.6 175.4 104.3 175.8 96.6Z" fill="#ff4040"/>
<path d="M203.1 89.3 C203.5 82.8 203.9 84.9 208.6 77.2 C213.3 69.5 210.6 72.7 217.1 66.2 C223.6 59.7 220.8 61.5 228.1 57.7 C235.4 53.9 232.1 54.7 239.0 54.7 C245.9 54.7 243.0 53.9 248.7 57.7 C254.4 61.5 253.2 59.7 256.0 66.2 C258.8 72.7 257.6 69.9 257.2 77.2 C256.8 84.5 258.0 81.6 254.8 88.1 C251.6 94.6 253.2 91.7 247.5 96.6 C241.8 101.5 244.7 99.9 237.8 102.7 C230.9 105.5 234.1 105.1 226.8 105.1 C219.5 105.1 222.4 105.5 215.9 102.7 C209.4 99.9 211.7 101.1 207.4 96.6 C203.1 92.1 202.7 95.8 203.1 89.3Z" fill="#ff0000"/>
<path d="M414.4 -15.1 C385.9 -9.4 413.5 -9.6 414.4 1.9 C415.3 13.4 415.6 5.0 417.0 19.5 C418.4 34.0 417.0 28.2 418.7 45.5 C420.4 62.8 419.8 54.2 422.1 71.5 C424.4 88.8 423.3 82.9 425.6 97.4 C427.9 111.9 425.0 104.7 429.0 114.9 C433.0 125.1 427.4 122.9 437.7 127.9 C448.0 132.9 439.2 134.2 460.0 129.9 C480.8 125.6 486.7 163.2 500.0 114.9 C513.3 66.6 528.5 28.2 500.0 -15.1 C471.5 -58.4 442.9 -20.8 414.4 -15.1Z" fill="#ff8080"/>
</g>
<ellipse cx="237.25" cy="1.9" rx="3.3" ry="2.3" fill="#fff"/>
<use href="#coast"/><use href="#grid"/>
</g>
<rect class="fr" x="0" y="0" width="474.5" height="237.3"/>
</g>
<g transform="translate(533.0 85.1)">
<g clip-path="url(#cr)">
<g clip-path="url(#cc)">
<path d="M-20.0 -25.1 L500.0 -25.1 L500.0 254.9 L-20.0 254.9Z" fill="#ffbfbf"/>
</g>
<g>
<path d="M-20.0 34.9 C-14.0 -35.1 -9.4 34.5 -2.0 44.9 C5.4 55.3 -2.2 54.4 2.1 66.1 C6.4 77.8 5.6 72.4 10.8 79.9 C16.0 87.4 9.6 82.2 17.7 88.6 C25.8 95.0 22.2 91.7 35.0 99.0 C47.8 106.3 43.9 104.3 56.0 110.4 C68.1 116.5 61.1 112.1 71.4 117.4 C81.7 122.7 77.1 120.2 86.9 126.4 C96.7 132.6 92.7 128.7 100.8 135.9 C108.9 143.1 106.0 139.4 111.2 148.0 C116.4 156.6 114.1 152.0 116.4 161.8 C118.7 171.6 118.7 167.6 118.1 177.4 C117.5 187.2 116.9 184.4 114.6 191.3 C112.3 198.2 113.7 177.0 111.2 198.2 C108.7 219.4 150.7 236.0 107.0 254.9 C63.3 273.8 22.3 328.2 -20.0 254.9 C-62.3 181.6 -26.0 104.9 -20.0 34.9Z" fill="#ffffff"/>
<path d="M100.8 -15.1 C7.0 -9.4 98.5 -6.6 100.8 2.0 C103.1 10.6 101.9 4.9 107.7 10.7 C113.5 16.5 109.4 14.4 118.1 19.3 C126.8 24.2 121.6 22.8 133.7 25.4 C145.8 28.0 138.8 27.4 154.4 27.1 C170.0 26.8 163.1 27.1 180.4 24.5 C197.7 21.9 189.9 22.3 206.4 19.3 C222.9 16.3 213.5 16.3 230.0 15.4 C246.5 14.5 238.7 14.8 256.0 16.7 C273.3 18.6 266.3 17.0 281.9 21.1 C297.5 25.2 291.1 22.6 302.7 28.9 C314.3 35.2 309.7 31.2 316.6 40.1 C323.5 49.0 321.4 47.4 323.5 55.7 C325.6 64.0 324.1 56.7 322.9 64.9 C321.7 73.1 322.9 70.1 319.8 80.4 C316.7 90.7 318.2 86.0 313.6 95.8 C309.0 105.6 311.6 99.9 305.9 109.7 C300.2 119.5 302.8 115.4 296.6 125.2 C290.4 135.0 293.5 129.8 287.3 139.1 C281.1 148.4 283.2 144.2 278.0 153.0 C272.8 161.8 274.1 158.7 271.8 165.4 C269.5 172.1 270.1 168.5 271.1 173.1 C272.1 177.7 271.0 175.4 274.9 179.3 C278.8 183.2 275.5 182.1 282.7 184.7 C289.9 187.3 286.3 187.1 296.6 187.1 C306.9 187.1 301.8 187.8 313.6 184.7 C325.4 181.6 320.2 183.1 332.1 177.8 C344.0 172.5 338.4 176.4 349.4 168.8 C360.4 161.2 355.8 165.3 365.0 154.9 C374.2 144.5 371.1 148.3 377.1 137.6 C383.1 126.9 380.0 131.5 383.0 122.9 C386.0 114.3 384.5 118.9 386.0 111.9 C387.5 104.9 387.3 113.7 387.5 101.9 C387.7 90.1 387.6 93.6 386.7 76.5 C385.8 59.4 386.1 67.8 384.9 50.5 C383.7 33.2 384.1 40.7 383.2 24.5 C382.3 8.3 382.6 15.2 382.3 2.0 C382.0 -11.2 476.1 -9.4 382.3 -15.1 C288.5 -20.8 194.6 -20.8 100.8 -15.1Z" fill="#ffffff"/>
</g>
<g clip-path="url(#cc)">
<path d="M113.8 -15.1 C35.7 -9.4 111.2 -6.6 113.8 2.0 C116.4 10.6 115.0 5.5 121.6 10.7 C128.2 15.9 122.8 13.9 133.7 17.6 C144.6 21.3 138.8 20.7 154.4 21.9 C170.0 23.1 163.1 23.1 180.4 21.1 C197.7 19.1 189.9 19.1 206.4 15.9 C222.9 12.7 213.5 13.0 230.0 11.5 C246.5 10.0 238.7 11.8 256.0 11.5 C273.3 11.2 264.6 11.6 281.9 10.7 C299.2 9.8 290.6 10.4 307.9 8.9 C325.2 7.4 320.6 8.6 333.9 6.3 C347.2 4.0 343.0 9.1 347.7 2.0 C352.4 -5.1 426.0 -9.4 348.0 -15.1 C270.0 -20.8 191.9 -20.8 113.8 -15.1Z" fill="#bfbfff"/>
<path d="M132.0 -15.1 C86.0 -9.4 129.1 -6.0 132.0 2.0 C134.9 10.0 133.1 5.1 140.6 8.9 C148.1 12.7 141.1 11.3 154.4 13.3 C167.7 15.3 163.1 15.6 180.4 15.0 C197.7 14.4 189.9 14.4 206.4 11.5 C222.9 8.6 216.4 8.3 230.0 6.3 C243.6 4.3 235.8 6.6 247.3 5.5 C258.8 4.4 257.1 4.1 264.6 2.9 C272.1 1.7 268.0 8.0 269.8 2.0 C271.6 -4.0 315.9 -9.4 270.0 -15.1 C224.1 -20.8 178.0 -20.8 132.0 -15.1Z" fill="#8080ff"/>
<path d="M354.6 78.2 C360.1 80.5 358.1 79.3 361.6 86.8 C365.1 94.3 364.4 92.3 365.0 100.7 C365.6 109.1 364.4 104.8 363.3 111.9 C362.2 119.0 364.5 114.6 361.6 122.0 C358.7 129.4 359.5 127.4 354.6 134.1 C349.7 140.8 352.4 137.4 347.0 142.2 C341.6 147.0 344.8 144.3 338.3 148.4 C331.8 152.5 335.2 151.2 327.5 154.6 C319.8 158.0 322.8 158.0 315.1 158.5 C307.4 159.0 309.7 158.4 304.3 156.1 C298.9 153.8 299.9 157.2 298.9 151.5 C297.9 145.8 297.8 148.4 301.2 139.1 C304.6 129.8 303.3 133.5 309.0 123.7 C314.7 113.9 312.5 119.0 318.2 109.7 C323.9 100.4 320.3 104.0 326.0 95.8 C331.7 87.6 328.9 90.3 335.2 85.0 C341.5 79.7 338.5 82.2 345.0 79.9 C351.5 77.6 349.1 75.9 354.6 78.2Z" fill="#bfbfff"/>
<path d="M13.4 -15.1 C-10.0 -9.4 12.8 -7.7 13.4 2.0 C14.0 11.7 13.1 5.4 15.1 14.1 C17.1 22.8 15.6 19.3 19.4 28.0 C23.2 36.7 20.6 32.0 26.4 40.1 C32.2 48.2 29.8 44.7 36.7 52.2 C43.6 59.7 38.4 56.2 47.1 62.6 C55.8 69.0 49.4 65.0 62.7 71.3 C76.0 77.6 73.7 74.7 87.0 81.6 C100.3 88.5 94.2 83.9 102.5 92.0 C110.8 100.1 106.0 96.8 112.0 105.9 C118.0 115.0 115.5 110.7 120.5 119.4 C125.5 128.1 122.0 122.4 127.0 131.9 C132.0 141.4 129.1 138.0 135.4 148.0 C141.7 158.0 137.7 153.2 145.8 161.8 C153.9 170.4 149.2 166.4 159.6 173.9 C170.0 181.4 165.3 178.8 176.9 184.3 C188.5 189.8 182.7 189.2 194.3 190.4 C205.9 191.6 200.7 191.5 211.6 187.8 C222.5 184.1 217.7 184.2 227.0 179.3 C236.3 174.4 230.1 178.2 239.4 173.1 C248.7 168.0 245.0 171.1 254.8 163.9 C264.6 156.7 260.4 160.3 268.7 151.5 C277.0 142.7 272.9 146.9 279.6 137.6 C286.3 128.3 282.7 133.5 288.9 123.7 C295.1 113.9 292.4 118.5 298.1 108.2 C303.8 97.9 301.8 103.0 305.9 92.7 C310.0 82.4 308.7 87.3 310.5 77.3 C312.3 67.3 312.3 72.7 311.4 62.6 C310.5 52.5 312.5 56.2 307.9 47.0 C303.3 37.8 306.7 41.8 297.5 34.9 C288.3 28.0 294.0 30.9 280.2 26.3 C266.4 21.7 272.7 23.4 256.0 21.1 C239.3 18.8 246.5 17.9 230.0 19.3 C213.5 20.7 222.9 21.4 206.4 25.4 C189.9 29.4 197.7 28.1 180.4 31.4 C163.1 34.7 170.0 33.9 154.4 35.4 C138.8 36.9 147.0 37.1 133.7 35.8 C120.4 34.5 125.6 35.2 114.6 31.4 C103.6 27.6 108.9 30.3 100.8 24.5 C92.7 18.7 96.2 21.6 90.4 14.1 C84.6 6.6 85.8 11.7 83.5 2.0 C81.2 -7.7 106.9 -9.4 83.5 -15.1 C60.1 -20.8 36.8 -20.8 13.4 -15.1Z" fill="#ff8080"/>
<path d="M230.0 36.6 C239.6 34.0 234.0 35.2 243.8 37.5 C253.6 39.8 250.2 38.1 259.4 43.6 C268.6 49.1 264.6 45.8 271.5 53.9 C278.4 62.0 277.0 59.0 280.2 67.8 C283.4 76.6 282.3 70.5 281.1 80.4 C279.9 90.3 280.6 87.1 276.5 97.4 C272.4 107.7 275.4 102.0 268.7 111.3 C262.0 120.6 265.7 118.0 256.4 125.2 C247.1 132.4 250.7 128.8 240.9 132.9 C231.1 137.0 237.0 135.3 227.0 137.4 C217.0 139.5 221.0 139.3 211.0 139.3 C201.0 139.3 206.0 139.7 197.0 137.4 C188.0 135.1 192.9 137.5 183.9 132.4 C174.9 127.3 177.5 129.5 170.0 122.0 C162.5 114.5 166.0 118.7 161.4 109.9 C156.8 101.1 157.4 104.3 156.2 95.5 C155.0 86.7 154.4 91.5 157.9 83.4 C161.4 75.3 159.1 78.8 166.6 71.3 C174.1 63.8 170.0 67.3 180.4 60.9 C190.8 54.5 186.2 57.4 197.7 52.2 C209.2 47.0 204.2 50.5 215.0 45.3 C225.8 40.1 220.4 39.2 230.0 36.6Z" fill="#ff4040"/>
<path d="M230.0 45.3 C239.0 43.0 233.4 44.1 242.1 47.0 C250.8 49.9 247.9 47.5 256.0 53.9 C264.1 60.3 262.2 58.3 266.4 66.1 C270.6 73.9 268.9 68.9 268.7 77.3 C268.5 85.7 269.3 81.9 265.7 91.2 C262.1 100.5 264.6 96.9 257.9 105.1 C251.2 113.3 255.2 109.8 245.6 115.9 C236.0 122.0 240.3 120.5 229.0 123.4 C217.7 126.3 223.2 126.2 211.6 124.6 C200.0 123.0 204.1 123.5 194.3 118.6 C184.5 113.7 187.9 115.9 182.1 109.9 C176.3 103.9 178.3 108.4 176.9 100.7 C175.5 93.0 174.9 96.0 177.8 86.8 C180.7 77.6 179.0 81.1 185.6 73.0 C192.2 64.9 187.9 69.0 197.7 62.6 C207.5 56.2 204.2 59.7 215.0 53.9 C225.8 48.1 221.0 47.6 230.0 45.3Z" fill="#ff0000"/>
<path d="M401.4 -15.1 C368.5 -9.4 401.1 -11.2 401.4 2.0 C401.7 15.2 401.6 8.3 402.2 24.5 C402.8 40.7 402.5 33.2 403.1 50.5 C403.7 67.8 403.4 59.2 404.0 76.5 C404.6 93.8 404.5 85.5 404.8 102.4 C405.1 119.3 405.1 113.2 404.8 127.2 C404.5 141.2 404.6 133.0 404.0 144.5 C403.4 156.0 403.7 151.0 403.1 161.8 C402.5 172.6 394.2 159.2 402.2 176.9 C410.2 194.6 394.4 218.9 427.0 214.9 C459.6 210.9 475.7 241.6 500.0 164.9 C524.3 88.2 532.9 44.9 500.0 -15.1 C467.1 -75.1 434.3 -20.8 401.4 -15.1Z" fill="#ff8080"/>
</g>
<ellipse cx="237.25" cy="1.9" rx="3.3" ry="2.3" fill="#fff"/>
<use href="#coast"/><use href="#grid"/>
</g>
<rect class="fr" x="0" y="0" width="474.5" height="237.3"/>
</g>
<g transform="translate(1026.0 85.1)">
<g clip-path="url(#cr)">
<g clip-path="url(#cc)">
<path d="M-20.0 -20.0 L500.0 -20.0 L500.0 260.0 L-20.0 260.0Z" fill="#ffbfbf"/>
</g>
<g>
<path d="M-20.0 35.0 C-14.0 -37.7 -9.3 33.9 -2.0 42.0 C5.3 50.1 -1.7 47.7 2.0 59.2 C5.7 70.7 3.8 65.5 9.0 76.5 C14.2 87.5 12.5 84.0 17.7 92.1 C22.9 100.2 17.2 94.6 24.6 100.7 C32.0 106.8 29.0 104.6 40.0 110.5 C51.0 116.4 46.5 113.1 57.5 118.3 C68.5 123.5 62.0 121.1 73.0 126.0 C84.0 130.9 80.0 127.4 90.4 133.0 C100.8 138.6 96.1 134.9 104.2 142.8 C112.3 150.7 110.0 147.4 114.6 156.6 C119.2 165.8 118.1 161.3 118.1 170.5 C118.1 179.7 118.6 175.6 114.6 184.3 C110.6 193.0 110.9 171.3 106.0 196.5 C101.1 221.7 142.0 238.8 100.0 260.0 C58.0 281.2 20.0 335.0 -20.0 260.0 C-60.0 185.0 -26.0 107.7 -20.0 35.0Z" fill="#ffffff"/>
<path d="M100.7 -15.0 C8.7 -9.3 98.4 -6.9 100.7 2.0 C103.0 10.9 101.9 5.5 107.7 11.6 C113.5 17.7 109.5 15.4 118.1 20.3 C126.7 25.2 121.5 23.7 133.6 26.3 C145.7 28.9 138.8 28.6 154.4 28.0 C170.0 27.4 163.1 27.5 180.4 24.6 C197.7 21.7 189.8 22.1 206.3 19.4 C222.8 16.7 213.9 17.1 230.0 16.5 C246.1 15.9 238.2 15.9 254.6 17.7 C271.0 19.5 263.8 18.0 279.1 21.8 C294.4 25.6 288.4 23.5 300.4 29.2 C312.4 34.9 307.5 31.4 315.2 39.0 C322.9 46.6 320.1 43.4 323.4 52.1 C326.7 60.8 325.6 55.9 325.0 65.2 C324.4 74.5 325.0 70.2 321.7 80.0 C318.4 89.8 320.1 84.8 315.2 94.7 C310.3 104.6 313.6 99.2 307.0 109.7 C300.4 120.2 302.6 115.3 295.5 126.3 C288.4 137.3 291.2 131.8 285.7 142.7 C280.2 153.6 281.6 149.7 279.1 159.0 C276.6 168.3 276.7 163.9 278.3 170.5 C279.9 177.1 278.3 174.9 284.0 178.7 C289.7 182.5 286.2 181.5 295.5 182.0 C304.8 182.5 301.0 182.8 311.9 180.3 C322.8 177.8 317.4 179.2 328.3 174.6 C339.2 170.0 334.2 172.7 344.6 166.4 C355.0 160.1 350.7 163.7 359.4 155.8 C368.1 147.9 364.8 151.4 370.8 142.7 C376.8 134.0 373.8 138.3 377.4 129.6 C381.0 120.9 379.6 126.4 381.5 116.5 C383.4 106.6 383.0 114.9 383.0 100.0 C383.0 85.1 382.8 89.4 381.5 71.8 C380.2 54.2 380.4 63.6 379.0 47.2 C377.6 30.8 378.2 37.7 377.4 22.7 C376.6 7.7 376.9 14.8 376.6 2.2 C376.3 -10.4 468.6 -9.3 376.6 -15.0 C284.6 -20.7 192.7 -20.7 100.7 -15.0Z" fill="#ffffff"/>
</g>
<g clip-path="url(#cc)">
<path d="M113.7 -15.0 C36.6 -9.3 111.1 -6.6 113.7 2.0 C116.3 10.6 114.9 5.2 121.5 10.7 C128.1 16.2 122.6 14.5 133.6 18.5 C144.6 22.5 138.8 21.9 154.4 22.8 C170.0 23.7 163.1 23.4 180.4 21.1 C197.7 18.8 189.8 18.9 206.3 15.9 C222.8 12.9 213.9 13.3 230.0 12.0 C246.1 10.7 238.2 12.3 254.6 12.0 C271.0 11.7 262.7 12.3 279.1 11.2 C295.5 10.1 287.3 10.3 303.7 8.7 C320.1 7.1 314.7 8.5 328.3 6.3 C341.9 4.1 339.0 9.3 344.6 2.2 C350.2 -4.9 422.0 -9.3 345.0 -15.0 C268.0 -20.7 190.8 -20.7 113.7 -15.0Z" fill="#bfbfff"/>
<path d="M128.4 -15.0 C80.9 -9.3 125.5 -6.0 128.4 2.0 C131.3 10.0 128.4 4.6 137.1 9.0 C145.8 13.4 140.0 12.5 154.4 15.1 C168.8 17.7 163.1 17.7 180.4 16.8 C197.7 15.9 189.8 15.6 206.3 12.5 C222.8 9.4 216.6 9.7 230.0 7.6 C243.4 5.5 235.5 7.6 246.4 6.3 C257.3 5.0 254.6 5.2 262.8 3.8 C271.0 2.4 268.2 8.5 270.9 2.2 C273.6 -4.1 318.5 -9.3 271.0 -15.0 C223.5 -20.7 175.9 -20.7 128.4 -15.0Z" fill="#8080ff"/>
<path d="M349.6 86.5 C356.1 87.6 353.9 87.6 357.7 94.7 C361.5 101.8 360.7 99.5 361.0 107.8 C361.3 116.1 361.8 111.9 358.5 119.7 C355.2 127.5 356.9 124.1 351.2 131.2 C345.5 138.3 348.5 135.3 341.4 141.0 C334.3 146.7 337.6 145.1 329.9 148.4 C322.2 151.7 325.0 150.8 318.4 150.8 C311.8 150.8 313.7 151.1 310.2 148.4 C306.7 145.7 307.8 148.4 307.8 142.7 C307.8 137.0 307.5 139.3 310.2 131.2 C312.9 123.1 310.5 127.4 316.0 118.5 C321.5 109.6 319.2 113.5 326.6 104.5 C334.0 95.5 330.4 97.4 338.1 91.4 C345.8 85.4 343.1 85.4 349.6 86.5Z" fill="#bfbfff"/>
<path d="M8.1 -15.0 C-17.3 -9.3 7.5 -8.3 8.1 2.0 C8.7 12.3 7.9 6.1 9.9 15.9 C11.9 25.7 10.5 21.1 14.2 31.5 C17.9 41.9 15.9 37.9 21.1 47.1 C26.3 56.3 21.2 51.7 29.8 59.2 C38.4 66.7 32.6 63.8 47.0 69.6 C61.4 75.4 57.4 70.7 73.0 76.5 C88.6 82.3 81.7 77.4 93.8 86.9 C105.9 96.4 100.7 94.6 109.4 105.0 C118.1 115.4 113.1 108.7 119.8 118.0 C126.5 127.3 122.6 122.4 129.5 133.0 C136.4 143.6 133.4 139.5 140.6 149.7 C147.8 159.9 144.1 154.4 151.0 163.6 C157.9 172.8 155.1 168.2 161.4 177.4 C167.7 186.6 165.4 182.1 170.0 191.3 C174.6 200.5 171.2 197.6 175.2 205.1 C179.2 212.6 176.3 209.5 182.1 213.8 C187.9 218.1 185.0 217.5 192.5 218.1 C200.0 218.7 197.1 219.3 204.6 215.5 C212.1 211.7 208.6 213.7 215.0 206.8 C221.4 199.9 216.7 202.6 223.7 194.7 C230.7 186.8 227.2 190.9 236.0 183.0 C244.8 175.1 241.1 181.2 250.0 171.0 C258.9 160.8 254.7 163.6 262.8 152.5 C270.9 141.4 267.1 147.5 274.2 137.7 C281.3 127.9 279.1 129.7 284.0 123.0 C288.9 116.3 284.1 124.3 289.0 117.6 C293.9 110.9 292.8 112.7 298.8 102.9 C304.8 93.1 302.6 98.0 307.0 88.2 C311.4 78.4 310.3 83.2 311.9 73.4 C313.5 63.6 313.5 68.0 311.9 58.7 C310.3 49.4 312.5 53.5 307.0 45.6 C301.5 37.7 305.3 41.2 295.5 34.9 C285.7 28.6 291.1 31.1 277.5 26.7 C263.9 22.3 270.4 24.0 254.6 21.8 C238.8 19.6 246.1 19.0 230.0 20.2 C213.9 21.4 222.8 21.6 206.3 25.4 C189.8 29.2 197.7 28.3 180.4 31.5 C163.1 34.7 170.0 33.8 154.4 35.0 C138.8 36.2 146.9 36.5 133.6 35.0 C120.3 33.5 125.6 34.7 114.6 30.6 C103.6 26.5 108.8 28.8 100.7 22.8 C92.6 16.8 95.9 19.4 90.4 12.5 C84.9 5.6 86.3 11.2 84.3 2.0 C82.3 -7.2 109.7 -9.3 84.3 -15.0 C58.9 -20.7 33.5 -20.7 8.1 -15.0Z" fill="#ff8080"/>
<path d="M230.0 33.3 C240.5 30.4 235.5 32.2 246.4 34.9 C257.3 37.6 253.5 35.8 262.8 41.5 C272.1 47.2 267.9 44.2 274.2 52.1 C280.5 60.0 278.6 55.9 281.6 65.2 C284.6 74.5 284.0 70.2 283.2 80.0 C282.4 89.8 283.2 85.4 279.1 94.7 C275.0 104.0 277.4 98.9 270.9 107.8 C264.4 116.7 268.2 113.1 259.5 121.4 C250.8 129.7 253.8 126.8 244.7 132.8 C235.6 138.8 242.8 136.0 232.3 139.3 C221.8 142.6 226.0 143.1 213.3 142.8 C200.6 142.5 205.8 142.5 194.3 138.5 C182.8 134.5 188.6 136.4 178.7 130.7 C168.8 125.0 172.2 128.2 164.5 121.5 C156.8 114.8 160.0 118.0 155.5 110.5 C151.0 103.0 151.3 107.4 150.9 99.0 C150.5 90.6 149.8 94.4 154.4 85.2 C159.0 76.0 156.1 80.0 164.8 71.3 C173.5 62.6 169.4 66.1 180.4 59.2 C191.4 52.3 186.2 55.7 197.7 50.5 C209.2 45.3 204.2 49.3 215.0 43.6 C225.8 37.9 219.5 36.2 230.0 33.3Z" fill="#ff4040"/>
<path d="M230.0 40.7 C239.4 37.6 234.4 39.8 243.1 43.1 C251.8 46.4 248.6 44.2 256.2 50.5 C263.8 56.8 261.1 53.8 266.0 62.0 C270.9 70.2 269.5 65.8 270.9 75.1 C272.3 84.4 272.3 80.5 270.1 89.8 C267.9 99.1 269.6 95.7 264.4 102.9 C259.2 110.1 261.7 106.1 254.6 111.5 C247.5 116.9 250.6 114.5 243.1 119.0 C235.6 123.5 239.6 122.0 232.0 125.0 C224.4 128.0 229.9 127.7 220.2 128.1 C210.5 128.5 214.0 129.2 202.9 126.3 C191.8 123.4 195.8 124.6 187.0 119.5 C178.2 114.4 181.6 117.3 176.5 111.0 C171.4 104.7 172.7 108.7 171.7 100.7 C170.7 92.7 169.9 96.1 173.4 86.9 C176.9 77.7 174.0 81.7 182.1 73.0 C190.2 64.3 186.7 67.8 197.7 60.9 C208.7 54.0 204.2 59.0 215.0 52.3 C225.8 45.6 220.6 43.8 230.0 40.7Z" fill="#ff0000"/>
<path d="M394.6 -15.0 C359.5 -9.3 394.3 -10.4 394.6 2.2 C394.9 14.8 394.6 7.7 395.4 22.7 C396.2 37.7 395.6 30.8 397.0 47.2 C398.4 63.6 398.1 55.4 399.5 71.8 C400.9 88.2 400.6 83.0 401.1 96.4 C401.6 109.8 401.4 102.0 401.1 112.0 C400.8 122.0 401.7 114.4 400.3 126.3 C398.9 138.2 399.7 134.0 397.0 147.6 C394.3 161.2 395.9 154.1 392.1 167.2 C388.3 180.3 389.6 174.3 385.6 186.9 C381.6 199.5 341.9 199.0 380.0 205.0 C418.1 211.0 460.0 278.3 500.0 205.0 C540.0 131.7 535.1 58.3 500.0 -15.0 C464.9 -88.3 429.7 -20.7 394.6 -15.0Z" fill="#ff8080"/>
</g>
<ellipse cx="237.25" cy="1.9" rx="3.3" ry="2.3" fill="#fff"/>
<use href="#coast"/><use href="#grid"/>
</g>
<rect class="fr" x="0" y="0" width="474.5" height="237.3"/>
</g>
<g transform="translate(40.0 567.4)">
<g clip-path="url(#cr)">
<g clip-path="url(#cc)">
<path d="M119.8 -15.0 C57.4 -9.3 118.1 -7.9 119.8 2.1 C121.5 12.1 119.8 6.7 125.0 15.1 C130.2 23.5 126.2 19.7 135.4 27.2 C144.6 34.7 140.0 31.2 152.7 37.6 C165.4 44.0 159.7 40.8 173.5 46.3 C187.3 51.8 180.4 49.8 194.2 54.1 C208.0 58.4 201.1 57.5 215.0 59.2 C228.9 60.9 224.3 60.6 235.8 59.2 C247.3 57.8 241.5 59.8 249.6 54.9 C257.7 50.0 253.1 51.4 260.0 44.5 C266.9 37.6 262.9 41.0 270.4 34.1 C277.9 27.2 273.8 31.3 282.5 23.8 C291.2 16.3 288.3 18.8 296.4 11.6 C304.5 4.4 303.3 11.0 306.8 2.1 C310.3 -6.8 369.3 -9.3 307.0 -15.0 C244.7 -20.7 182.2 -20.7 119.8 -15.0Z" fill="#aaaaff"/>
<path d="M182.1 -15.0 C157.8 -9.3 183.8 -6.8 182.1 2.1 C180.4 11.0 176.9 3.8 176.9 11.6 C176.9 19.4 176.9 16.8 182.1 25.5 C187.3 34.2 184.4 31.0 192.5 37.6 C200.6 44.2 196.6 41.6 206.4 45.4 C216.2 49.2 212.1 48.6 221.9 48.9 C231.7 49.2 227.7 50.1 235.8 46.3 C243.9 42.5 240.4 45.1 246.2 37.6 C252.0 30.1 249.9 33.0 253.1 23.8 C256.3 14.6 255.1 17.1 255.7 9.9 C256.3 2.7 255.0 10.4 254.8 2.1 C254.6 -6.2 279.2 -9.3 255.0 -15.0 C230.8 -20.7 206.4 -20.7 182.1 -15.0Z" fill="#5555ff"/>
<path d="M94.7 65.3 L114.6 60.1 L138.9 57.5 L157.9 57.5 L176.9 61.0 L197.7 64.4 L218.5 66.2 L235.8 66.2 L249.6 61.8 L260.0 54.9 L270.4 48.9 L284.3 46.3 L296.0 47.9 L310.6 55.2 L325.3 62.6 L329.3 72.5 L331.3 83.2 L333.3 91.2 L338.6 99.2 L340.6 109.8 L339.3 115.2 L334.6 119.2 L323.9 119.8 L316.0 123.1 L312.0 131.1 L302.6 135.1 L294.6 139.1 L293.3 147.1 L294.6 154.1 L280.8 164.5 L267.0 173.2 L253.1 181.8 L242.7 188.8 L235.8 195.7 L227.1 200.0 L216.8 199.2 L201.2 198.3 L187.3 195.7 L178.7 187.0 L170.0 176.6 L159.6 164.5 L145.8 152.4 L130.2 142.0 L119.8 128.2 L112.0 117.0 L107.7 106.8 L99.0 89.5 L94.7 74.0Z" fill="#ffaaaa"/>
<path d="M168.3 106.8 C167.7 98.0 165.4 102.3 171.7 96.5 C178.0 90.7 175.2 93.0 187.3 89.5 C199.4 86.0 194.8 89.0 208.1 86.1 C221.4 83.2 214.4 84.9 227.1 80.9 C239.8 76.9 234.1 78.0 246.2 74.0 C258.3 70.0 254.3 71.1 263.5 68.8 C272.7 66.5 268.4 65.3 273.9 67.0 C279.4 68.7 275.7 68.9 280.0 73.9 C284.3 78.9 282.7 75.7 286.7 81.9 C290.7 88.1 289.8 85.0 292.0 92.5 C294.2 100.0 294.1 97.5 293.3 104.5 C292.5 111.5 293.7 106.8 289.5 113.5 C285.3 120.2 287.7 117.5 280.8 124.7 C273.9 131.9 277.9 129.0 268.7 135.1 C259.5 141.2 264.1 138.6 253.1 142.9 C242.1 147.2 247.3 145.8 235.8 148.1 C224.3 150.4 230.6 151.0 218.5 149.8 C206.4 148.6 210.9 149.5 199.4 144.6 C187.9 139.7 192.5 142.3 183.9 135.1 C175.3 127.9 178.7 132.4 173.5 123.0 C168.3 113.6 168.9 115.6 168.3 106.8Z" fill="#ff5555"/>
</g>
<ellipse cx="237.25" cy="1.9" rx="3.3" ry="2.3" fill="#fff"/>
<use href="#coast"/><use href="#grid"/>
</g>
<rect class="fr" x="0" y="0" width="474.5" height="237.3"/>
</g>
<g transform="translate(533.0 567.4)">
<g clip-path="url(#cr)">
<g clip-path="url(#cc)">
<path d="M40.8 -15.0 L40.8 2.1 L40.8 15.1 L44.2 30.7 L50.3 46.3 L57.2 60.1 L64.1 68.8 L72.8 77.4 L81.4 86.1 L88.4 94.7 L93.6 105.1 L98.9 114.0 L106.9 127.0 L116.5 141.4 L129.3 154.1 L142.1 165.3 L154.8 176.5 L166.0 187.7 L175.6 198.9 L186.8 208.5 L196.4 214.1 L207.6 215.7 L221.9 212.5 L236.3 208.5 L245.9 200.5 L250.0 193.0 L253.4 186.9 L263.0 181.3 L271.0 176.5 L275.8 171.7 L288.5 165.3 L301.3 162.9 L313.3 162.9 L314.9 158.1 L309.3 153.3 L306.1 147.0 L315.7 139.8 L318.1 131.8 L322.1 126.2 L330.1 125.4 L342.9 128.6 L357.3 134.2 L366.8 130.2 L370.8 122.2 L365.2 110.8 L358.9 102.9 L346.1 93.3 L337.3 87.6 L335.3 83.1 L332.3 76.2 L328.3 68.2 L322.3 62.2 L312.4 58.3 L302.5 53.3 L292.5 49.3 L280.6 47.8 L268.7 50.3 L258.7 54.3 L248.8 59.2 L236.8 63.2 L221.9 65.2 L207.0 65.2 L197.4 61.8 L180.1 57.5 L162.8 54.1 L145.5 51.5 L128.2 49.7 L110.9 44.5 L97.0 37.6 L84.9 27.2 L76.2 15.1 L71.0 2.1 L71.0 -15.0Z" fill="#ffaaaa"/>
<path d="M147.2 96.5 C148.0 87.7 145.5 91.9 150.7 86.1 C155.9 80.3 153.0 82.7 162.8 79.2 C172.6 75.7 168.6 77.4 180.1 75.7 C191.6 74.0 188.4 75.2 197.4 74.0 C206.4 72.8 198.8 72.5 207.0 72.2 C215.2 71.9 212.0 72.9 221.9 73.2 C231.8 73.5 227.8 74.2 236.8 73.2 C245.8 72.2 241.5 72.5 248.8 70.2 C256.1 67.9 252.1 68.4 258.7 66.2 C265.3 64.0 262.7 64.4 268.7 63.7 C274.7 63.0 271.6 62.4 276.6 64.2 C281.6 66.0 279.3 65.2 283.6 69.2 C287.9 73.2 285.9 71.9 289.5 76.2 C293.1 80.5 291.5 78.3 294.5 82.1 C297.5 85.9 296.2 84.4 298.5 87.6 C300.8 90.8 299.3 87.7 301.3 91.7 C303.3 95.7 304.5 93.3 304.5 99.7 C304.5 106.1 304.5 105.0 301.3 110.8 C298.1 116.6 299.8 112.7 295.0 117.0 C290.2 121.3 292.2 117.3 286.9 123.8 C281.6 130.3 285.9 129.7 279.0 136.6 C272.1 143.5 274.6 139.8 266.2 144.6 C257.8 149.4 262.3 146.4 253.9 150.9 C245.5 155.4 250.7 154.1 241.1 158.1 C231.5 162.1 235.7 161.6 225.1 162.9 C214.5 164.2 219.8 164.2 209.2 162.1 C198.6 160.0 203.9 161.3 193.2 156.5 C182.5 151.7 186.8 154.4 177.2 147.8 C167.6 141.2 171.9 144.6 164.4 136.6 C156.9 128.6 160.1 131.8 154.8 123.8 C149.5 115.8 150.9 121.7 148.4 112.6 C145.9 103.5 146.4 105.3 147.2 96.5Z" fill="#ff5555"/>
<path d="M194.8 110.3 C194.1 103.4 192.5 106.2 197.4 99.9 C202.3 93.6 199.7 95.3 209.5 91.3 C219.3 87.3 214.7 88.4 226.8 87.8 C238.9 87.2 236.0 87.7 245.9 89.5 C255.8 91.3 250.4 89.9 256.6 93.3 C262.8 96.7 261.1 94.9 264.6 99.7 C268.1 104.5 267.0 102.8 267.0 107.6 C267.0 112.4 268.1 109.2 264.6 114.0 C261.1 118.8 262.5 117.3 256.6 122.0 C250.7 126.7 252.7 125.0 247.0 128.0 C241.3 131.0 247.3 129.7 239.5 131.0 C231.7 132.3 233.6 132.9 223.5 131.8 C213.4 130.7 217.2 131.5 209.2 127.8 C201.2 124.1 204.4 126.4 199.6 120.6 C194.8 114.8 195.5 117.2 194.8 110.3Z" fill="#ff0000"/>
<path d="M115.2 -15.0 C34.3 -9.3 113.8 -6.8 115.2 2.1 C116.6 11.0 115.2 5.0 119.5 11.6 C123.8 18.2 120.7 15.1 128.2 22.0 C135.7 28.9 131.6 26.0 142.0 32.4 C152.4 38.8 147.8 35.9 159.3 41.1 C170.8 46.3 165.1 43.7 176.6 48.0 C188.1 52.3 183.8 50.7 193.9 54.1 C204.0 57.5 197.7 56.3 207.0 58.3 C216.3 60.3 212.0 59.9 221.9 60.2 C231.8 60.5 227.8 60.8 236.8 59.2 C245.8 57.6 240.8 58.9 248.8 55.3 C256.8 51.7 252.8 53.3 260.7 48.3 C268.6 43.3 264.6 45.7 272.6 40.4 C280.6 35.1 276.6 37.7 284.6 32.4 C292.6 27.1 287.6 30.0 296.5 24.4 C305.4 18.8 302.1 20.8 311.4 15.5 C320.7 10.2 316.3 12.5 324.3 8.5 C332.3 4.5 327.0 5.6 335.3 3.6 C343.6 1.6 341.7 2.9 349.3 2.6 C356.9 2.3 355.1 8.5 358.0 2.6 C360.9 -3.3 438.9 -9.1 358.0 -15.0 C277.1 -20.9 196.1 -20.7 115.2 -15.0Z" fill="#aaaaff"/>
<path d="M350.9 -5.0 L356.5 -5.0 L358.1 24.6 L352.5 24.6Z" fill="#aaaaff"/>
<path d="M152.4 -15.0 C112.9 -9.3 150.7 -6.8 152.4 2.1 C154.1 11.0 152.4 4.4 157.6 11.6 C162.8 18.8 159.9 16.3 168.0 23.8 C176.1 31.3 172.0 27.2 181.8 34.1 C191.6 41.0 187.3 38.4 197.4 44.5 C207.5 50.6 203.2 49.4 212.0 52.3 C220.8 55.2 216.0 54.0 223.9 53.3 C231.8 52.6 228.2 53.3 235.8 50.3 C243.4 47.3 240.2 49.3 246.8 44.3 C253.4 39.3 250.4 42.0 255.7 35.4 C261.0 28.8 258.7 32.0 262.7 24.4 C266.7 16.8 265.1 19.9 267.7 12.5 C270.3 5.1 269.5 11.3 270.6 2.1 C271.7 -7.1 310.4 -9.3 271.0 -15.0 C231.6 -20.7 191.9 -20.7 152.4 -15.0Z" fill="#5555ff"/>
<path d="M198.3 23.8 C198.8 17.6 197.1 19.2 202.6 13.4 C208.1 7.6 204.9 9.7 214.7 6.4 C224.5 3.1 223.9 2.2 231.9 3.6 C239.9 5.0 235.7 5.2 238.8 10.5 C241.9 15.8 241.0 13.5 241.3 19.5 C241.6 25.5 242.0 23.1 239.8 28.4 C237.6 33.7 239.1 31.4 234.8 35.4 C230.5 39.4 232.9 38.4 226.9 40.4 C220.9 42.4 223.5 42.1 216.9 41.4 C210.3 40.7 212.3 41.5 207.0 38.4 C201.7 35.3 203.9 36.9 201.0 32.0 C198.1 27.1 197.8 30.0 198.3 23.8Z" fill="#0000ff"/>
<path d="M410.8 -15.0 C397.2 -9.3 410.5 -8.3 410.8 2.2 C411.1 12.7 411.3 6.5 411.6 16.6 C411.9 26.7 413.7 22.9 411.6 32.5 C409.5 42.1 410.0 37.3 405.2 45.3 C400.4 53.3 400.9 48.5 397.2 56.5 C393.5 64.5 396.7 61.8 394.0 69.3 C391.3 76.8 392.9 72.5 389.2 78.9 C385.5 85.3 386.0 81.0 382.8 88.5 C379.6 96.0 381.2 92.8 379.6 101.3 C378.0 109.8 378.5 107.0 378.0 114.0 C377.5 121.0 376.9 115.7 378.0 122.2 C379.1 128.7 378.0 125.9 381.2 133.4 C384.4 140.9 382.3 138.2 387.6 144.6 C392.9 151.0 390.8 148.5 397.2 152.5 C403.6 156.5 400.4 156.5 406.8 156.5 C413.2 156.5 411.1 156.5 416.4 152.5 C421.7 148.5 419.9 151.0 422.8 144.6 C425.7 138.2 424.7 140.9 425.2 133.4 C425.7 125.9 424.1 129.2 424.4 122.2 C424.7 115.2 422.8 118.8 426.0 112.4 C429.2 106.0 428.7 109.8 434.0 102.9 C439.3 96.0 437.2 99.7 442.0 91.7 C446.8 83.7 444.6 88.0 448.3 78.9 C452.0 69.8 451.0 74.6 453.1 64.5 C455.2 54.4 454.2 59.2 454.7 48.5 C455.2 37.8 455.2 43.1 454.7 32.5 C454.2 21.9 454.2 26.7 453.1 16.6 C452.0 6.5 452.0 12.7 451.5 2.2 C451.0 -8.3 465.1 -9.3 451.5 -15.0 C437.9 -20.7 424.4 -20.7 410.8 -15.0Z" fill="#ffaaaa"/>
</g>
<ellipse cx="237.25" cy="1.9" rx="3.3" ry="2.3" fill="#fff"/>
<use href="#coast"/><use href="#grid"/>
</g>
<rect class="fr" x="0" y="0" width="474.5" height="237.3"/>
</g>
<g transform="translate(1026.0 567.4)">
<g clip-path="url(#cr)">
<g clip-path="url(#cc)">
<path d="M48.5 8.6 L59.7 6.2 L70.9 11.8 L82.1 21.4 L93.3 31.0 L106.1 38.9 L118.9 45.3 L134.8 49.3 L150.8 51.7 L166.8 54.9 L182.8 59.7 L198.8 63.7 L214.7 66.1 L230.7 65.0 L243.0 61.0 L255.0 55.5 L268.0 50.1 L283.9 49.3 L299.9 54.1 L312.7 59.7 L325.5 64.5 L331.9 72.5 L336.7 82.1 L347.9 90.1 L360.6 95.7 L368.6 98.1 L376.6 91.7 L379.8 83.7 L386.2 75.7 L389.4 67.7 L392.6 56.5 L400.6 46.9 L407.0 38.9 L408.6 29.4 L407.8 16.6 L407.0 2.2 L407.0 -15.0 L451.7 -15.0 L451.7 2.2 L454.9 16.6 L456.5 32.5 L455.7 48.5 L453.3 64.5 L448.5 78.9 L442.1 91.7 L435.7 102.9 L431.0 110.8 L429.4 116.0 L430.2 120.6 L433.3 130.2 L432.5 139.8 L424.6 149.4 L413.4 162.1 L403.0 172.5 L392.6 162.1 L383.0 152.5 L375.0 147.0 L363.8 146.2 L352.6 148.6 L341.5 143.8 L338.3 135.0 L335.1 130.2 L323.1 130.2 L319.1 139.8 L313.5 146.2 L323.9 152.5 L323.1 163.7 L317.5 173.3 L306.3 181.3 L292.7 187.7 L287.9 179.7 L288.7 171.7 L291.9 167.7 L283.9 169.3 L274.4 176.5 L264.0 185.5 L253.9 195.7 L247.5 205.3 L239.5 213.3 L228.3 219.7 L215.6 222.9 L202.8 222.9 L191.6 218.1 L182.0 210.1 L174.0 198.9 L166.0 187.7 L156.4 176.5 L143.7 165.3 L130.9 154.1 L118.1 141.4 L106.9 127.0 L99.5 114.0 L93.0 106.0 L86.9 99.7 L78.9 90.1 L69.3 80.5 L59.7 69.3 L53.3 58.1 L49.3 45.3 L46.1 32.5 L46.1 19.8Z" fill="#ffaaaa"/>
<path d="M142.8 101.3 C142.5 94.3 140.7 97.6 144.4 91.7 C148.1 85.8 145.5 88.0 154.0 83.7 C162.5 79.4 159.3 81.6 170.0 78.9 C180.7 76.2 175.3 77.3 186.0 75.7 C196.7 74.1 191.4 74.9 202.0 74.1 C212.6 73.3 207.3 74.2 217.9 73.3 C228.5 72.4 222.5 73.9 233.9 71.5 C245.3 69.1 240.6 68.4 252.0 66.1 C263.4 63.8 259.5 64.5 268.0 64.5 C276.5 64.5 271.7 62.9 277.5 66.1 C283.3 69.3 279.6 68.2 285.5 74.1 C291.4 80.0 289.2 77.8 295.1 83.7 C301.0 89.6 299.4 85.8 303.1 91.7 C306.8 97.6 306.3 94.9 306.3 101.3 C306.3 107.7 306.3 104.4 303.1 110.8 C299.9 117.2 302.0 114.7 296.7 120.6 C291.4 126.5 293.0 122.2 287.1 128.6 C281.2 135.0 285.5 133.4 279.1 139.8 C272.7 146.2 274.3 144.1 268.0 147.8 C261.7 151.5 267.1 147.7 260.3 150.9 C253.5 154.1 257.1 153.0 247.5 157.3 C237.9 161.6 242.1 161.0 231.5 163.7 C220.9 166.4 225.7 166.1 215.6 165.3 C205.5 164.5 210.8 165.0 201.2 161.3 C191.6 157.6 195.9 159.1 186.8 154.1 C177.7 149.1 182.5 152.6 174.0 146.2 C165.5 139.8 168.7 142.5 161.2 135.0 C153.7 127.5 156.9 131.3 151.6 123.8 C146.3 116.3 148.1 120.1 145.2 112.6 C142.3 105.1 143.1 108.3 142.8 101.3Z" fill="#ff5555"/>
<path d="M187.6 107.7 C186.8 100.2 186.0 104.0 190.8 98.1 C195.6 92.2 193.0 94.1 202.0 90.1 C211.0 86.1 207.3 87.2 217.9 86.1 C228.5 85.0 223.6 86.1 233.9 86.9 C244.2 87.7 239.6 86.6 248.8 88.5 C258.0 90.4 254.7 88.2 261.6 92.5 C268.5 96.8 266.9 95.2 269.6 101.3 C272.3 107.4 271.2 104.7 269.6 110.8 C268.0 116.9 269.0 114.1 264.8 119.5 C260.6 124.9 263.9 122.6 257.1 127.0 C250.3 131.4 253.4 129.7 244.3 132.6 C235.2 135.5 239.5 135.3 229.9 135.8 C220.3 136.3 224.6 136.6 215.6 134.2 C206.6 131.8 210.3 133.1 202.8 128.6 C195.3 124.1 198.3 127.6 193.2 120.6 C188.1 113.6 188.4 115.2 187.6 107.7Z" fill="#ff0000"/>
<path d="M114.1 -15.0 C36.1 -9.3 112.5 -6.7 114.1 2.2 C115.7 11.1 114.1 4.9 118.9 11.8 C123.7 18.7 120.4 16.1 128.4 23.0 C136.4 29.9 132.7 26.7 142.8 32.5 C152.9 38.3 148.1 35.4 158.8 40.5 C169.5 45.6 164.1 43.2 174.8 47.7 C185.5 52.2 180.2 50.6 190.8 54.1 C201.4 57.6 196.1 56.2 206.7 58.1 C217.3 60.0 212.9 59.6 222.7 59.7 C232.5 59.8 228.4 60.6 236.0 58.5 C243.6 56.4 239.2 57.8 245.6 53.3 C252.0 48.8 247.7 50.8 255.2 45.0 C262.7 39.2 258.4 41.8 268.0 36.0 C277.6 30.2 273.3 32.9 283.9 27.5 C294.5 22.1 289.2 24.5 299.9 19.8 C310.6 15.1 305.2 17.1 315.9 13.4 C326.6 9.7 322.3 11.3 331.9 8.6 C341.5 5.9 339.4 7.5 344.7 5.4 C350.0 3.3 346.8 9.0 347.9 2.2 C349.0 -4.6 425.9 -9.3 348.0 -15.0 C270.1 -20.7 192.1 -20.7 114.1 -15.0Z" fill="#aaaaff"/>
<path d="M351.0 -5.0 L355.8 -5.0 L363.0 24.6 L353.4 26.2 L350.0 15.0Z" fill="#aaaaff"/>
<path d="M150.8 -15.0 C110.1 -9.3 149.2 -6.7 150.8 2.2 C152.4 11.1 150.8 4.9 155.6 11.8 C160.4 18.7 157.7 16.1 165.2 23.0 C172.7 29.9 168.9 26.4 178.0 32.5 C187.1 38.6 182.3 36.2 192.4 41.3 C202.5 46.4 197.7 44.8 208.3 47.7 C218.9 50.6 214.2 49.7 224.3 50.1 C234.4 50.5 230.8 51.0 238.7 49.0 C246.6 47.0 241.9 49.0 248.0 44.0 C254.1 39.0 251.7 40.7 257.0 34.0 C262.3 27.3 260.2 30.7 264.0 24.0 C267.8 17.3 265.6 21.3 268.5 14.0 C271.4 6.7 271.3 11.9 272.8 2.2 C274.3 -7.5 313.7 -9.3 273.0 -15.0 C232.3 -20.7 191.5 -20.7 150.8 -15.0Z" fill="#5555ff"/>
<path d="M195.6 21.4 C195.1 14.5 195.1 16.9 200.4 11.8 C205.7 6.7 202.5 8.9 211.5 6.2 C220.5 3.5 217.9 3.5 227.5 3.8 C237.1 4.1 234.9 2.2 240.3 7.0 C245.7 11.8 243.3 10.7 243.8 18.2 C244.3 25.7 244.7 23.0 241.9 29.4 C239.1 35.8 240.8 33.3 235.5 37.3 C230.2 41.3 233.4 40.2 225.9 41.3 C218.4 42.4 221.1 43.4 213.1 40.5 C205.1 37.6 207.8 38.9 202.0 32.5 C196.2 26.1 196.1 28.3 195.6 21.4Z" fill="#0000ff"/>
</g>
<ellipse cx="237.25" cy="1.9" rx="3.3" ry="2.3" fill="#fff"/>
<use href="#coast"/><use href="#grid"/>
</g>
<rect class="fr" x="0" y="0" width="474.5" height="237.3"/>
</g>
<path d="M172.6 369.7 L309.6 355.4 L309.6 384.0 Z" fill="#0000ff"/>
<rect x="309.6" y="355.4" width="137.3" height="28.6" fill="#4040ff"/>
<rect x="446.6" y="355.4" width="137.3" height="28.6" fill="#8080ff"/>
<rect x="583.6" y="355.4" width="137.3" height="28.6" fill="#bfbfff"/>
<rect x="857.6" y="355.4" width="137.3" height="28.6" fill="#ffbfbf"/>
<rect x="994.6" y="355.4" width="137.3" height="28.6" fill="#ff8080"/>
<rect x="1131.6" y="355.4" width="137.3" height="28.6" fill="#ff4040"/>
<path d="M1405.6 369.7 L1268.6 355.4 L1268.6 384.0 Z" fill="#ff0000"/>
<text class="cb" transform="translate(309.6 422.4) scale(1.18 1)">−17</text>
<text class="cb" transform="translate(446.6 422.4) scale(1.18 1)">−12</text>
<text class="cb" transform="translate(583.6 422.4) scale(1.18 1)">−3</text>
<text class="cb" transform="translate(720.6 422.4) scale(1.18 1)">−1</text>
<text class="cb" transform="translate(857.6 422.4) scale(1.18 1)">1</text>
<text class="cb" transform="translate(994.6 422.4) scale(1.18 1)">3</text>
<text class="cb" transform="translate(1131.6 422.4) scale(1.18 1)">12</text>
<text class="cb" transform="translate(1268.6 422.4) scale(1.18 1)">17</text>
<path d="M172.6 852.1 L348.7 838.0 L348.7 866.2 Z" fill="#0000ff"/>
<rect x="348.7" y="838.0" width="176.4" height="28.2" fill="#5555ff"/>
<rect x="524.8" y="838.0" width="176.4" height="28.2" fill="#aaaaff"/>
<rect x="877.0" y="838.0" width="176.4" height="28.2" fill="#ffaaaa"/>
<rect x="1053.1" y="838.0" width="176.4" height="28.2" fill="#ff5555"/>
<path d="M1405.3 852.1 L1229.2 838.0 L1229.2 866.2 Z" fill="#ff0000"/>
<text class="cb" transform="translate(348.7 905.3) scale(1.18 1)">−1.6</text>
<text class="cb" transform="translate(524.8 905.3) scale(1.18 1)">−0.8</text>
<text class="cb" transform="translate(700.9 905.3) scale(1.18 1)">−0.2</text>
<text class="cb" transform="translate(877.0 905.3) scale(1.18 1)">0.2</text>
<text class="cb" transform="translate(1053.1 905.3) scale(1.18 1)">0.8</text>
<text class="cb" transform="translate(1229.2 905.3) scale(1.18 1)">1.6</text>
</svg></body></html>
